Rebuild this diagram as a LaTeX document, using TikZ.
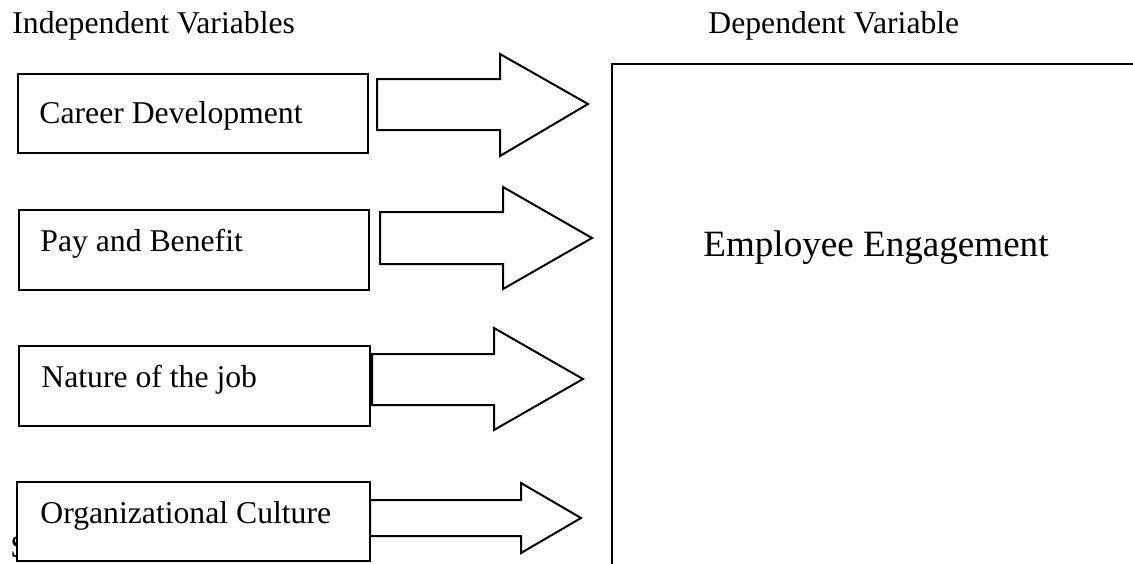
\documentclass[tikz,border=0pt]{standalone}
\usepackage{fontspec}
\setmainfont{Liberation Serif}
\begin{document}
\begin{tikzpicture}[x=0.5pt,y=-0.5pt,
  lbl/.style={inner sep=0pt,anchor=base west,font=\fontsize{15.85}{19}\selectfont},
  biglbl/.style={inner sep=0pt,anchor=base west,font=\fontsize{18.55}{22}\selectfont},
  ivbox/.style={draw,line width=1pt,fill=white,inner sep=0pt,outer sep=0pt},
  blockarrow/.style={draw,line width=1pt,fill=white,line join=miter}]
\useasboundingbox (0,0) rectangle (1133,563);
% headings
\node[lbl] (hind) at (12,33) {Independent Variables};
\node[lbl] (hdep) at (708,33) {Dependent Variable};
% partially hidden letter
\node[lbl] (s) at (10,557) {S};
% dependent variable box (open to the right and bottom)
\draw[line width=1pt] (612,570) -- (612,64) -- (1140,64);
\node[biglbl] (dv) at (703,256) {Employee Engagement};
% arrows
\draw[blockarrow] (377,79) -- (500,79) -- (500,54) -- (588,104) -- (500,156) -- (500,130) -- (377,130) -- cycle;
\draw[blockarrow] (380,212) -- (503,212) -- (503,187) -- (592,238) -- (503,289) -- (503,264) -- (380,264) -- cycle;
\draw[blockarrow] (372,354) -- (494,354) -- (494,328) -- (583,379) -- (494,430) -- (494,405) -- (372,405) -- cycle;
\draw[blockarrow] (370,500) -- (521,500) -- (521,483) -- (581,518) -- (521,553) -- (521,536) -- (370,536) -- cycle;
% independent variable boxes
\node[ivbox,minimum width=175pt,minimum height=39.5pt] (b1) at (193,113.5) {};
\node[ivbox,minimum width=175pt,minimum height=40pt] (b2) at (194,250) {};
\node[ivbox,minimum width=175.5pt,minimum height=40pt] (b3) at (194.5,386) {};
\node[ivbox,minimum width=176.5pt,minimum height=39.5pt] (b4) at (193.5,521.5) {};
\node[lbl] (t1) at (39,123) {Career Development};
\node[lbl] (t2) at (40,251) {Pay and Benefit};
\node[lbl] (t3) at (41,387) {Nature of the job};
\node[lbl] (t4) at (40,523) {Organizational Culture};
\end{tikzpicture}
\end{document}
